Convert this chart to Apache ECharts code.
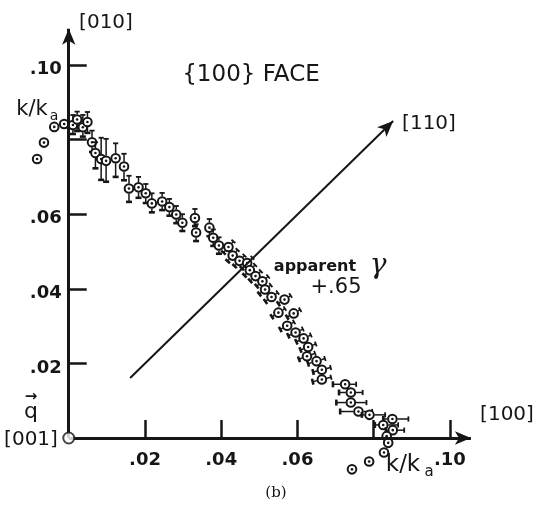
<!DOCTYPE html>
<html>
<head>
<meta charset="utf-8">
<script src="https://cdn.jsdelivr.net/npm/echarts@6/dist/echarts.min.js"></script>
<style>
  html, body { margin: 0; padding: 0; background: #fff; }
  #chart { width: 542px; height: 510px; }
</style>
</head>
<body>
<div id="chart"></div>
<script>
// points with vertical error bars: x, y, upper and lower extent (k/ka units)
const xA = [0.0011, 0.0022, 0.0037, 0.0049, 0.0061, 0.0070, 0.0085, 0.0098, 0.0123, 0.0145, 0.0158, 0.0183,
            0.0202, 0.0218, 0.0245, 0.0264, 0.0282, 0.0298, 0.0331, 0.0334, 0.0369, 0.0379, 0.0394];
const yA = [0.0839, 0.0854, 0.0833, 0.0847, 0.0793, 0.0764, 0.0748, 0.0743, 0.0750, 0.0728, 0.0669, 0.0672,
            0.0656, 0.0629, 0.0634, 0.0619, 0.0599, 0.0577, 0.0590, 0.0551, 0.0564, 0.0537, 0.0516];
const upA = [0.0027, 0.0021, 0.0033, 0.0027, 0.0031, 0.0029, 0.0057, 0.0059, 0.0040, 0.0034, 0.0034, 0.0028,
             0.0025, 0.0027, 0.0023, 0.0022, 0.0023, 0.0023, 0.0024, 0.0022, 0.0023, 0.0022, 0.0022];
const downA = [0.0024, 0.0031, 0.0025, 0.0029, 0.0026, 0.0041, 0.0056, 0.0056, 0.0050, 0.0037, 0.0036, 0.0028,
               0.0026, 0.0024, 0.0023, 0.0023, 0.0023, 0.0022, 0.0022, 0.0023, 0.0023, 0.0022, 0.0022];

// points with slanted error bars: half extent along x and y
const xB = [0.0419, 0.0430, 0.0448, 0.0468, 0.0475, 0.0490, 0.0508, 0.0515, 0.0532, 0.0566, 0.0550, 0.0590,
            0.0573, 0.0595, 0.0616, 0.0628, 0.0625, 0.0650, 0.0664, 0.0664];
const yB = [0.0512, 0.0489, 0.0475, 0.0469, 0.0450, 0.0434, 0.0420, 0.0398, 0.0378, 0.0371, 0.0336, 0.0334,
            0.0301, 0.0283, 0.0267, 0.0244, 0.0219, 0.0206, 0.0183, 0.0157];
const exB = [0.0013, 0.0013, 0.0013, 0.0014, 0.0014, 0.0014, 0.0015, 0.0015, 0.0016, 0.0016, 0.0017, 0.0017,
             0.0018, 0.0019, 0.0019, 0.0020, 0.0021, 0.0022, 0.0023, 0.0024];
const eyB = [0.0015, 0.0015, 0.0014, 0.0014, 0.0014, 0.0013, 0.0013, 0.0012, 0.0012, 0.0011, 0.0011, 0.0010,
             0.0010, 0.0009, 0.0009, 0.0008, 0.0008, 0.0007, 0.0006, 0.0006];

// points with horizontal error bars
const xC = [0.0725, 0.0740, 0.0740, 0.0760, 0.0789, 0.0849, 0.0825, 0.0850];
const yC = [0.0144, 0.0122, 0.0095, 0.0071, 0.0062, 0.0051, 0.0035, 0.0021];
const leftC = [0.0032, 0.0031, 0.0038, 0.0048, 0.0020, 0.0024, 0.0022, 0.0018];
const rightC = [0.0029, 0.0031, 0.0041, 0.0036, 0.0041, 0.0042, 0.0039, 0.0030];

// points without error bars
const xD = [-0.0083, -0.0065, -0.0038, -0.0012, 0.0834, 0.0838, 0.0827, 0.0788, 0.0743];
const yD = [0.0748, 0.0792, 0.0834, 0.0842, 0.0005, -0.0013, -0.0039, -0.0063, -0.0084];

const tickValues = [0.02, 0.04, 0.06, 0.08, 0.10];
const xLabelValues = [0.02, 0.04, 0.06, 0.10];
const yLabelValues = [0.02, 0.04, 0.06, 0.10];

// [110] direction (k_x = k_y) and the two axis arrows
const dir110 = [[0.0161, 0.0161], [0.0851, 0.0850]];
const arrowY = [[0, 0], [0, 0.1097]];
const arrowX = [[0, 0], [0.1055, 0]];

const INK = '#161616';
const FONT = '"DejaVu Sans", sans-serif';

// grid edges in px; the axes are shifted in onto the zero lines
const GRID = { left: 15.38, right: 38.68, top: 12.78, bottom: 27.24 };
const X_MIN = -0.014, X_MAX = 0.114, Y_MIN = -0.012, Y_MAX = 0.114;
const plotW = 542 - GRID.left - GRID.right, plotH = 510 - GRID.top - GRID.bottom;
const yAxisShift = -(0 - X_MIN) / (X_MAX - X_MIN) * plotW;
const xAxisShift = -(0 - Y_MIN) / (Y_MAX - Y_MIN) * plotH;

// every item: x, y, cap end offset (dx, dy), foot end offset (dx, dy)
const points = [];
xA.forEach((x, i) => points.push([x, yA[i], 0, upA[i], 0, -downA[i]]));
xB.forEach((x, i) => points.push([x, yB[i], exB[i], eyB[i], -exB[i], -eyB[i]]));
xC.forEach((x, i) => points.push([x, yC[i], rightC[i], 0, -leftC[i], 0]));
xD.forEach((x, i) => points.push([x, yD[i], 0, 0, 0, 0]));

function renderPoint(params, api) {
  const x = api.value(0), y = api.value(1);
  const c = api.coord([x, y]);
  const children = [];
  [[api.value(2), api.value(3), false], [api.value(4), api.value(5), true]].forEach(function (e) {
    if (!e[0] && !e[1]) return;
    const p = api.coord([x + e[0], y + e[1]]);
    const vx = p[0] - c[0], vy = p[1] - c[1];
    const len = Math.sqrt(vx * vx + vy * vy);
    const ux = vx / len, uy = vy / len;
    children.push({
      type: 'line',
      shape: { x1: c[0] + ux * 5, y1: c[1] + uy * 5, x2: p[0], y2: p[1] },
      style: { stroke: INK, lineWidth: 1.5 }
    });
    const hw = e[2] ? 3 : 2.6;
    children.push({
      type: 'line',
      shape: { x1: p[0] - uy * hw, y1: p[1] + ux * hw, x2: p[0] + uy * hw, y2: p[1] - ux * hw },
      style: { stroke: INK, lineWidth: e[2] ? 2.6 : 1.8 }
    });
  });
  children.push({
    type: 'circle',
    shape: { cx: c[0], cy: c[1], r: 4.3 },
    style: { fill: '#fff', stroke: INK, lineWidth: 2 }
  });
  children.push({
    type: 'circle',
    shape: { cx: c[0], cy: c[1], r: 1.3 },
    style: { fill: INK }
  });
  return { type: 'group', children: children };
}

function lead(v) { return v.toFixed(2).replace(/^0/, ''); }
// y labels sit a little below their ticks in the original
function leadLow(v) { return '{v|' + lead(v) + '}'; }

function txt(text, x, y, size, extra) {
  return {
    type: 'text', x: x, y: y, z: 10,
    style: Object.assign({
      text: text, fill: INK, font: size + 'px ' + FONT,
      align: 'center', verticalAlign: 'middle'
    }, extra || {})
  };
}

function arrowLine(pts, width) {
  return {
    silent: true, symbol: ['none', 'arrow'], symbolSize: [10, 16],
    label: { show: false }, emphasis: { disabled: true },
    lineStyle: { color: INK, width: width, type: 'solid' },
    data: [[{ coord: pts[0] }, { coord: pts[1] }]]
  };
}

const chart = echarts.init(document.getElementById('chart'), null, { renderer: 'canvas' });

chart.setOption({
  backgroundColor: '#fff',
  animation: false,
  grid: Object.assign({ containLabel: false, outerBoundsMode: 'none' }, GRID),
  xAxis: {
    type: 'value', min: X_MIN, max: X_MAX, position: 'bottom', offset: xAxisShift,
    axisLine: { show: false, onZero: false },
    splitLine: { show: false },
    axisTick: { show: true, inside: true, length: 18, customValues: tickValues,
                lineStyle: { color: INK, width: 2.5 } },
    axisLabel: { customValues: xLabelValues, formatter: lead, margin: 13, color: INK,
                 fontSize: 18, fontWeight: 'bold', fontFamily: FONT }
  },
  yAxis: {
    type: 'value', min: Y_MIN, max: Y_MAX, position: 'left', offset: yAxisShift,
    axisLine: { show: false, onZero: false },
    splitLine: { show: false },
    axisTick: { show: true, inside: true, length: 18, customValues: tickValues,
                lineStyle: { color: INK, width: 2.5 } },
    axisLabel: { customValues: yLabelValues, formatter: leadLow, margin: 7, color: INK,
                 fontSize: 18, fontFamily: FONT,
                 rich: { v: { fontSize: 18, fontWeight: 'bold', fontFamily: FONT, color: INK,
                              padding: [9, 0, 0, 0] } } }
  },
  series: [
    { type: 'line', data: [], markLine: arrowLine(arrowY, 3) },
    { type: 'line', data: [], markLine: arrowLine(arrowX, 3) },
    { type: 'line', data: [], markLine: arrowLine(dir110, 2) },
    {
      type: 'scatter', data: [[0, 0]], symbol: 'circle', symbolSize: 11, z: 5, silent: true,
      itemStyle: { color: '#fff', borderColor: INK, borderWidth: 2 }
    },
    {
      type: 'custom', data: points, renderItem: renderPoint, clip: false, z: 4, silent: true,
      encode: { x: 0, y: 1 }
    }
  ],
  graphic: [
    txt('[010]', 106, 23, 20),
    txt('{100} FACE', 251, 75, 23),
    txt('[110]', 429, 124, 20),
    txt('[100]', 507, 415, 20),
    txt('[001]', 31, 440, 20),
    txt('q', 31, 412, 22),
    txt('→', 31, 397, 15, { font: 'bold 15px ' + FONT }),
    txt('k/k', 32, 110, 21),
    txt('a', 54, 116, 14),
    txt('k/k', 403, 465, 23),
    txt('a', 429, 472, 15),
    txt('apparent', 315, 267, 16, { font: 'bold 16px ' + FONT }),
    txt('γ', 378, 266, 28, { font: 'italic 28px "DejaVu Serif", serif' }),
    txt('+.65', 336, 288, 21),
    txt('(b)', 276, 493, 15, { font: '15px "DejaVu Serif", serif' })
  ]
});
</script>
</body>
</html>
